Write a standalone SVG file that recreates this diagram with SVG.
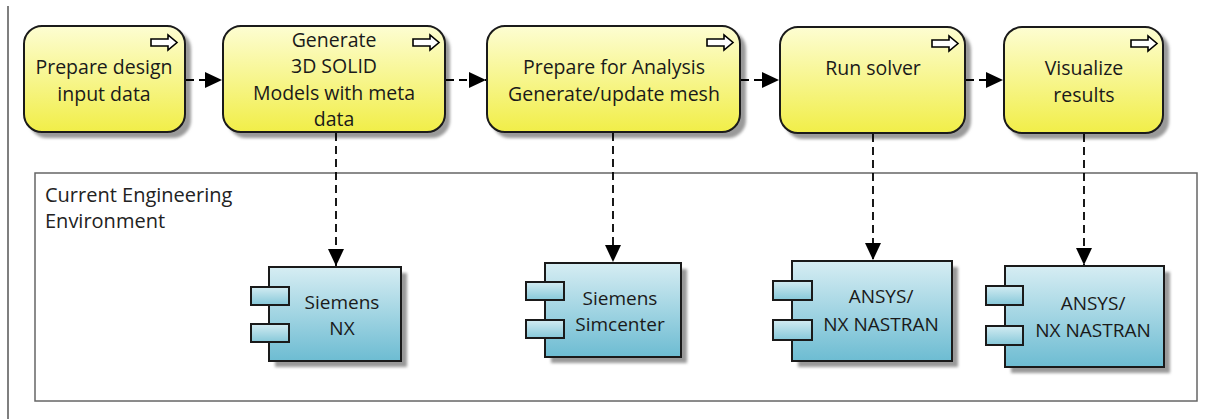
<svg xmlns="http://www.w3.org/2000/svg" width="1205" height="419" viewBox="0 0 1205 419">
<defs>
<linearGradient id="gy" x1="0" y1="0" x2="0" y2="1"><stop offset="0" stop-color="#fdfdd2"/><stop offset="1" stop-color="#f1ee48"/></linearGradient>
<linearGradient id="gb" x1="0" y1="0" x2="0" y2="1"><stop offset="0" stop-color="#d6edf3"/><stop offset="1" stop-color="#6dbcd2"/></linearGradient>
<linearGradient id="gp" x1="0" y1="0" x2="0" y2="1"><stop offset="0" stop-color="#d3ecf2"/><stop offset="1" stop-color="#86c8d9"/></linearGradient>
<filter id="bl" x="-10%" y="-10%" width="120%" height="120%"><feGaussianBlur stdDeviation="1.5"/></filter>
<marker id="ah" markerWidth="18" markerHeight="16" refX="17" refY="8" orient="auto" markerUnits="userSpaceOnUse"><path d="M0,0 L17,8 L0,16 Z" fill="#000"/></marker>
</defs>
<style>
.box{fill:url(#gy);stroke:#1a1a1a;stroke-width:2}
.sh{fill:#9a9a9a;filter:url(#bl)}
.cmp{fill:url(#gb);stroke:#1a1a1a;stroke-width:2}
.port{fill:url(#gp);stroke:#1a1a1a;stroke-width:2}
.ic{fill:#fff;stroke:#000;stroke-width:1.6}
.t{font-family:"Open Sans","Liberation Sans",sans-serif;font-size:19.5px;fill:#1a1a1a;text-anchor:middle}
.tc{font-family:"Open Sans","Liberation Sans",sans-serif;font-size:19px;fill:#1a1a1a;text-anchor:middle}
.tl{font-family:"Open Sans","Liberation Sans",sans-serif;font-size:20px;fill:#222}
.c{stroke:#000;stroke-width:1.8;fill:none;stroke-dasharray:8 5;marker-end:url(#ah)}
</style>
<rect width="1205" height="419" fill="#fff"/>
<line x1="8" y1="6" x2="8" y2="419" stroke="#555" stroke-width="1.5"/>
<g id="env">
<rect x="35" y="173" width="1162" height="228" fill="none" stroke="#666" stroke-width="1.5"/>
<text class="tl" x="45" y="202">Current Engineering</text>
<text class="tl" x="45" y="228">Environment</text>
</g>
<g id="p1">
<rect class="sh" x="29" y="31" width="162" height="107" rx="18"/>
<rect class="box" x="24" y="26" width="161" height="106" rx="18"/>
<path class="ic" d="M151,39 h17 v-4 l9,7.5 l-9,7.5 v-4 h-17 Z"/>
<text class="t" x="104" y="74">Prepare design</text>
<text class="t" x="104" y="101">input data</text>
</g>
<g id="p2">
<rect class="sh" x="228" y="31" width="222" height="107" rx="18"/>
<rect class="box" x="223" y="26" width="222" height="106" rx="18"/>
<path class="ic" d="M413,39 h17 v-4 l9,7.5 l-9,7.5 v-4 h-17 Z"/>
<text class="t" x="334" y="47">Generate</text>
<text class="t" x="334" y="73">3D SOLID</text>
<text class="t" x="334" y="100">Models with meta</text>
<text class="t" x="334" y="126">data</text>
</g>
<g id="p3">
<rect class="sh" x="492" y="31" width="254" height="107" rx="18"/>
<rect class="box" x="487" y="26" width="253" height="106" rx="18"/>
<path class="ic" d="M707,39 h17 v-4 l9,7.5 l-9,7.5 v-4 h-17 Z"/>
<text class="t" x="614" y="74">Prepare for Analysis</text>
<text class="t" x="614" y="101">Generate/update mesh</text>
</g>
<g id="p4">
<rect class="sh" x="785" y="32" width="186" height="107" rx="18"/>
<rect class="box" x="780" y="27" width="185" height="106" rx="18"/>
<path class="ic" d="M932,40 h17 v-4 l9,7.5 l-9,7.5 v-4 h-17 Z"/>
<text class="t" x="873" y="75">Run solver</text>
</g>
<g id="p5">
<rect class="sh" x="1009" y="32" width="160" height="107" rx="18"/>
<rect class="box" x="1004" y="27" width="159" height="106" rx="18"/>
<path class="ic" d="M1131,40 h17 v-4 l9,7.5 l-9,7.5 v-4 h-17 Z"/>
<text class="t" x="1084" y="75">Visualize</text>
<text class="t" x="1084" y="102">results</text>
</g>
<g id="c1">
<rect class="sh" x="275" y="273" width="132" height="94"/>
<rect class="cmp" x="269" y="267" width="132" height="94"/>
<rect class="port" x="251" y="287" width="38" height="18"/>
<rect class="port" x="251" y="324" width="38" height="18"/>
<text class="tc" x="342" y="309">Siemens</text>
<text class="tc" x="342" y="335">NX</text>
</g>
<g id="c2">
<rect class="sh" x="551" y="269" width="136" height="94"/>
<rect class="cmp" x="545" y="263" width="136" height="94"/>
<rect class="port" x="526" y="282" width="38" height="18"/>
<rect class="port" x="526" y="320" width="38" height="18"/>
<text class="tc" x="620" y="305">Siemens</text>
<text class="tc" x="620" y="331">Simcenter</text>
</g>
<g id="c3">
<rect class="sh" x="798" y="267" width="160" height="100"/>
<rect class="cmp" x="792" y="261" width="160" height="100"/>
<rect class="port" x="773" y="281" width="39" height="19"/>
<rect class="port" x="773" y="320" width="39" height="20"/>
<text class="tc" x="881" y="303">ANSYS/</text>
<text class="tc" x="881" y="331">NX NASTRAN</text>
</g>
<g id="c4">
<rect class="sh" x="1011" y="272" width="159" height="101"/>
<rect class="cmp" x="1005" y="266" width="159" height="101"/>
<rect class="port" x="986" y="286" width="37" height="19"/>
<rect class="port" x="986" y="326" width="37" height="19"/>
<text class="tc" x="1093" y="310">ANSYS/</text>
<text class="tc" x="1093" y="337">NX NASTRAN</text>
</g>
<g id="connectors">
<line class="c" x1="186" y1="80" x2="222" y2="80"/>
<line class="c" x1="446" y1="80" x2="486" y2="80"/>
<line class="c" x1="741" y1="80" x2="779" y2="80"/>
<line class="c" x1="966" y1="80" x2="1003" y2="80"/>
<line class="c" x1="336" y1="133" x2="336" y2="266"/>
<line class="c" x1="613" y1="133" x2="613" y2="262"/>
<line class="c" x1="873" y1="134" x2="873" y2="260"/>
<line class="c" x1="1084" y1="134" x2="1084" y2="265"/>
</g>
</svg>
